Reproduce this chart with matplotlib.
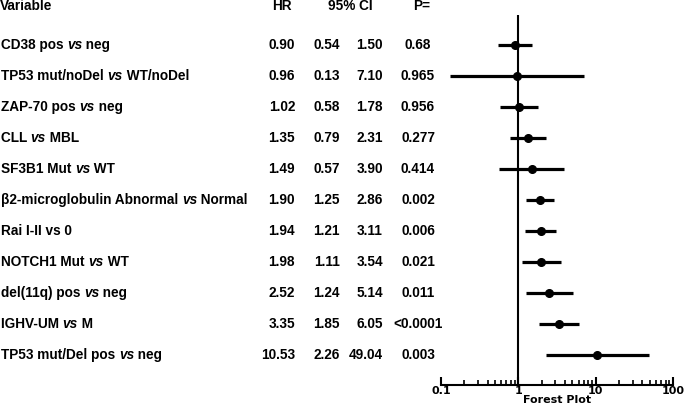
import matplotlib
matplotlib.use("Agg")
import matplotlib.pyplot as plt
from matplotlib.transforms import blended_transform_factory
import matplotlib.ticker as mticker
import numpy as np

# label pieces: (text, italic)
labels = [
    [("CD38 pos ", False), ("vs", True), (" neg", False)],
    [("TP53 mut/noDel ", False), ("vs", True), (" WT/noDel", False)],
    [("ZAP-70 pos ", False), ("vs", True), (" neg", False)],
    [("CLL ", False), ("vs", True), (" MBL", False)],
    [("SF3B1 Mut ", False), ("vs", True), (" WT", False)],
    [("β2-microglobulin Abnormal ", False), ("vs", True), (" Normal", False)],
    [("Rai I-II vs 0", False)],
    [("NOTCH1 Mut ", False), ("vs", True), (" WT", False)],
    [("del(11q) pos ", False), ("vs", True), (" neg", False)],
    [("IGHV-UM ", False), ("vs", True), (" M", False)],
    [("TP53 mut/Del pos ", False), ("vs", True), (" neg", False)],
]
hr = [0.90, 0.96, 1.02, 1.35, 1.49, 1.90, 1.94, 1.98, 2.52, 3.35, 10.53]
ci_low = [0.54, 0.13, 0.58, 0.79, 0.57, 1.25, 1.21, 1.11, 1.24, 1.85, 2.26]
ci_high = [1.50, 7.10, 1.78, 2.31, 3.90, 2.86, 3.11, 3.54, 5.14, 6.05, 49.04]
p_vals = ["0.68", "0.965", "0.956", "0.277", "0.414", "0.002", "0.006",
          "0.021", "0.011", "<0.0001", "0.003"]
xticks = [0.1, 1, 10, 100]
xtick_labels = ["0.1", "1", "10", "100"]

W, H = 685, 408
fig = plt.figure(figsize=(W / 100, H / 100), dpi=100)
ax = fig.add_axes([441 / W, 1 - 385 / H, (673 - 441) / W, (385 - 15) / H])

n = len(hr)
rows = np.arange(n)
ax.errorbar(hr, rows, xerr=[np.array(hr) - np.array(ci_low), np.array(ci_high) - np.array(hr)],
            fmt="o", color="black", ms=5.5, elinewidth=2.3, capsize=0)
ax.axvline(1, color="black", lw=1.5)

ax.set_xscale("log")
ax.set_xlim(0.1, 100)
ax.set_ylim(n - 0.03, -0.97)
ax.set_yticks([])
for s in ["left", "right", "top"]:
    ax.spines[s].set_visible(False)
ax.spines["bottom"].set_linewidth(1.5)
ax.set_xticks(xticks)
ax.set_xticklabels(xtick_labels)
ax.xaxis.set_minor_locator(mticker.LogLocator(base=10, subs=np.arange(2, 10)))
ax.xaxis.set_minor_formatter(mticker.NullFormatter())
ax.tick_params(axis="x", which="major", direction="in", length=6, width=1.5, pad=1,
               labelsize=8)
ax.tick_params(axis="x", which="minor", direction="in", length=3.5, width=1.2)
for t in ax.get_xticklabels():
    t.set_fontweight("bold")
    t.set_family("DejaVu Sans")
ax.set_xlabel("Forest Plot", fontsize=8, fontweight="bold", labelpad=-1)

tr = blended_transform_factory(fig.transFigure, ax.transData)
fs = 9.8
font = dict(family="Liberation Sans", fontsize=fs, fontweight="bold", clip_on=False)

hy = -1.25
fig.text(0, hy, "Variable", transform=tr, ha="left", va="center", **font)
fig.text(282 / W, hy, "HR", transform=tr, ha="center", va="center", **font)
fig.text(350 / W, hy, "95% CI", transform=tr, ha="center", va="center", **font)
fig.text(413 / W, hy, "P=", transform=tr, ha="left", va="center", **font)

for i in rows:
    prev = None
    for txt, it in labels[i]:
        style = "italic" if it else "normal"
        if prev is None:
            prev = fig.text(1 / W, i, txt, transform=tr, ha="left", va="center",
                            style=style, **font)
        else:
            prev = ax.annotate(txt, xy=(1, 0), xycoords=prev, ha="left", va="bottom",
                               style=style, family="Liberation Sans", fontsize=fs,
                               fontweight="bold", annotation_clip=False)
    fig.text(295 / W, i, f"{hr[i]:.2f}", transform=tr, ha="right", va="center", **font)
    fig.text(340 / W, i, f"{ci_low[i]:.2f}", transform=tr, ha="right", va="center", **font)
    fig.text(383 / W, i, f"{ci_high[i]:.2f}", transform=tr, ha="right", va="center", **font)
    fig.text(418 / W, i, p_vals[i], transform=tr, ha="center", va="center", **font)

fig.savefig("out.png", dpi=100)
